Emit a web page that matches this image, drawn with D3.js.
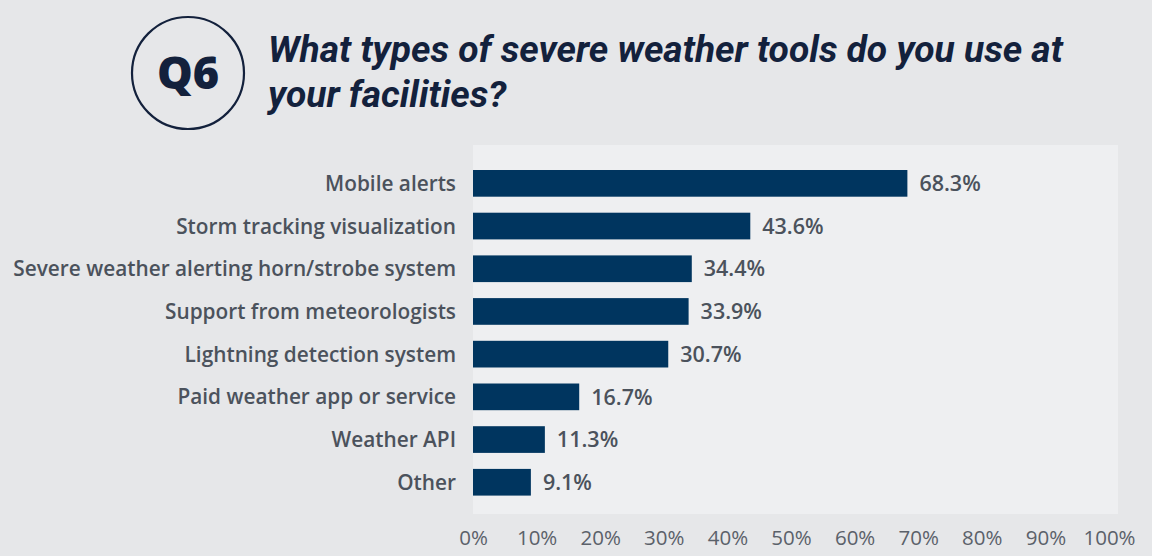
<!DOCTYPE html>
<html lang="en">
<head>
  <meta charset="UTF-8">
  <title>Q6 Severe weather tools</title>
  <script src="https://d3js.org/d3.v7.min.js"></script>
  <style>
    body, html {
      margin: 0;
      padding: 0;
      width: 100%;
      height: 100%;
      background-color: #e6e7e9;
      overflow: hidden;
    }

    .title {
      font-family: 'Roboto', sans-serif;
      font-style: italic;
      font-weight: 700;
      fill: #13213c;
    }

    .cat-label {
      font-family: 'Open Sans', sans-serif;
      font-weight: 600;
      font-size: 20.8px;
      fill: #4b525c;
    }

    .value-label {
      font-family: 'Open Sans', sans-serif;
      font-weight: 600;
      font-size: 21.5px;
      fill: #4b525c;
    }

    .axis text {
      font-family: 'Open Sans', sans-serif;
      font-size: 20.5px;
      fill: #5b616a;
    }

    .axis path, .axis line {
      stroke: none;
    }
  </style>
</head>
<body>
  <svg id="chart"></svg>

  <script>
    const categories = [
      "Mobile alerts",
      "Storm tracking visualization",
      "Severe weather alerting horn/strobe system",
      "Support from meteorologists",
      "Lightning detection system",
      "Paid weather app or service",
      "Weather API",
      "Other"
    ];
    const values = [68.3, 43.6, 34.4, 33.9, 30.7, 16.7, 11.3, 9.1];
    const tickValues = [0, 10, 20, 30, 40, 50, 60, 70, 80, 90, 100];
    const titleLines = ["What types of severe weather tools do you use at", "your facilities?"];
    const badgeText = "Q6";

    const width = 1152;
    const height = 556;

    const svg = d3.select("#chart")
      .attr("width", width)
      .attr("height", height);

    // header: circled question number + title
    svg.append("circle")
      .attr("cx", 188)
      .attr("cy", 73)
      .attr("r", 56)
      .attr("fill", "none")
      .attr("stroke", "#13213c")
      .attr("stroke-width", 2.2);

    svg.append("text")
      .attr("x", 188)
      .attr("y", 89)
      .attr("text-anchor", "middle")
      .style("font-family", "'Open Sans', sans-serif")
      .style("font-weight", 800)
      .style("font-size", "45px")
      .style("fill", "#13213c")
      .text(badgeText);

    svg.append("g")
      .selectAll("text")
      .data(titleLines)
      .enter().append("text")
      .attr("class", "title")
      .attr("x", 268)
      .attr("y", (d, i) => 62 + i * 45)
      .style("font-size", "37.2px")
      .text(d => d);

    // plot panel
    const panel = { left: 473, right: 1118, top: 145, bottom: 514 };

    svg.append("rect")
      .attr("x", panel.left)
      .attr("y", panel.top)
      .attr("width", panel.right - panel.left)
      .attr("height", panel.bottom - panel.top)
      .attr("fill", "#eeeff1");

    const x = d3.scaleLinear()
      .domain([0, 100])
      .range([473, 1109]);

    const y = d3.scaleBand()
      .domain(categories)
      .range([162, 503.6])
      .paddingInner(0.375)
      .paddingOuter(0.1875);

    const data = categories.map((c, i) => ({ cat: c, value: values[i] }));

    svg.append("g")
      .selectAll("rect")
      .data(data)
      .enter().append("rect")
      .attr("x", x(0))
      .attr("y", d => y(d.cat))
      .attr("width", d => x(d.value) - x(0))
      .attr("height", y.bandwidth())
      .attr("fill", "#00355f");

    svg.append("g")
      .selectAll("text")
      .data(data)
      .enter().append("text")
      .attr("class", "value-label")
      .attr("x", d => x(d.value) + 12)
      .attr("y", d => y(d.cat) + y.bandwidth() / 2)
      .attr("dy", "0.36em")
      .text(d => d.value.toFixed(1) + "%");

    svg.append("g")
      .selectAll("text")
      .data(data)
      .enter().append("text")
      .attr("class", "cat-label")
      .attr("x", 456)
      .attr("y", d => y(d.cat) + y.bandwidth() / 2)
      .attr("dy", "0.36em")
      .attr("text-anchor", "end")
      .text(d => d.cat);

    const xAxis = d3.axisBottom(x)
      .tickValues(tickValues)
      .tickSize(0)
      .tickPadding(0)
      .tickFormat(d => d + "%");

    svg.append("g")
      .attr("class", "axis")
      .attr("transform", "translate(0,530)")
      .call(xAxis);
  </script>
</body>
</html>
